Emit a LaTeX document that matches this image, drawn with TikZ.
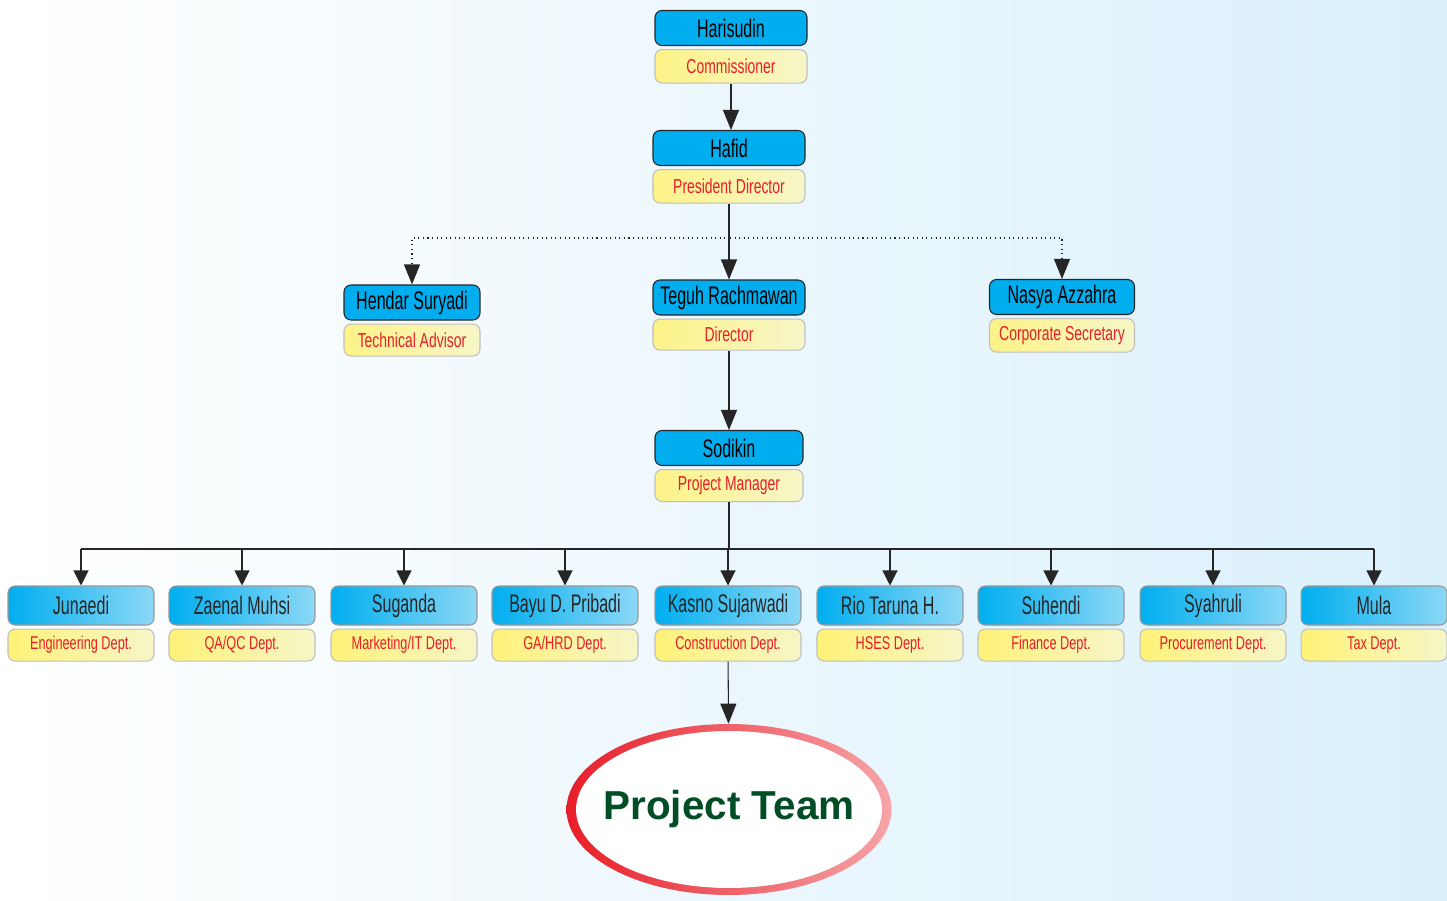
\documentclass[tikz,border=0pt]{standalone}
\usepackage{fontspec}
\setmainfont{Liberation Sans}
\newfontfamily\condfont{Liberation Sans}[FakeStretch=0.63]
\newfontfamily\rolefont{Liberation Sans}[FakeStretch=0.69]
\usepackage{xcolor}
\usepackage{tikz}
\usetikzlibrary{positioning,shapes.geometric,arrows.meta}

\definecolor{boxblue}{RGB}{0,174,239}
\definecolor{boxlight}{RGB}{140,216,246}
\definecolor{roleyellow}{RGB}{255,242,120}
\definecolor{rolepale}{RGB}{246,246,200}
\definecolor{rolered}{RGB}{232,30,40}
\definecolor{teamgreen}{RGB}{0,77,38}
\definecolor{bgblue}{RGB}{218,240,251}

\tikzset{
  namebox/.style={rectangle, rounded corners=4pt, draw=black!85, line width=0.6pt, fill=boxblue,
    minimum width=3.04cm, minimum height=0.7cm, inner sep=0pt, font=\condfont\fontsize{14.5}{14.5}\selectfont},
  rolebox/.style={rectangle, rounded corners=4pt, draw=black!25, line width=0.6pt,
    left color=roleyellow!80!rolepale, right color=rolepale, text=rolered,
    minimum width=3.04cm, minimum height=0.67cm, inner sep=0pt, font=\rolefont\fontsize{11.5}{11.5}\selectfont},
  deptname/.style={namebox, draw=black!40, left color=boxblue, right color=boxlight, text=black!85,
    minimum width=2.92cm, minimum height=0.78cm},
  deptrole/.style={rolebox, left color=roleyellow, minimum width=2.92cm, minimum height=0.64cm,
    font=\rolefont\fontsize{10.5}{10.5}\selectfont},
  link/.style={line width=0.6pt, draw=black!85, -{Triangle[length=0.4cm,width=0.32cm]}},
  buslink/.style={line width=0.6pt, draw=black!85, -{Triangle[length=0.3cm,width=0.3cm]}},
}

\begin{document}
\begin{tikzpicture}[x=0.02cm, y=-0.02cm]
		% Background
		\useasboundingbox (0,0) rectangle (1447,900);
		\shade[left color=white, middle color=white!85!bgblue, right color=bgblue] (0,0) rectangle (1447,900);
		
		% Top
		\node [namebox] (harisudin) at (731,28) {Harisudin};
		\node [rolebox, below=0.06cm of harisudin] (commissioner) {Commissioner};
		\node [namebox] (hafid) at (729,148) {Hafid};
		\node [rolebox, below=0.06cm of hafid] (president) {President Director};
		
		% Second level
		\node [namebox, minimum width=2.72cm] (hendar) at (412,302.5) {Hendar Suryadi};
		\node [rolebox, minimum width=2.72cm, minimum height=0.64cm, below=0.06cm of hendar] (advisor) {Technical Advisor};
		\node [namebox] (teguh) at (729,297.5) {Teguh Rachmawan};
		\node [rolebox, minimum height=0.62cm, below=0.06cm of teguh] (director) {Director};
		\node [namebox, minimum width=2.9cm] (nasya) at (1062,297) {Nasya Azzahra};
		\node [rolebox, minimum width=2.9cm, below=0.06cm of nasya] (secretary) {Corporate Secretary};
		
		% Project manager
		\node [namebox, minimum width=2.96cm] (sodikin) at (729,448) {Sodikin};
		\node [rolebox, minimum width=2.96cm, minimum height=0.64cm, below=0.06cm of sodikin] (manager) {Project Manager};
		
		% Departments
		\foreach \i/\x/\who/\dept in {1/81/Junaedi/Engineering Dept., 2/242/Zaenal Muhsi/QA\slash QC Dept.,
		    3/404/Suganda/Marketing\slash IT Dept., 4/565/Bayu D. Pribadi/GA\slash HRD Dept.,
		    5/728/Kasno Sujarwadi/Construction Dept., 6/890/Rio Taruna H./HSES Dept.,
		    7/1051/Suhendi/Finance Dept., 8/1213/Syahruli/Procurement Dept., 9/1374/Mula/Tax Dept.} {
		  \node [deptname] (staff\i) at (\x,605.5) {\who};
		  \node [deptrole, below=0.06cm of staff\i] (dept\i) {\dept};
		}
		
		% Project team
		\node [ellipse, left color=rolered, right color=rolered!40, minimum width=6.5cm, minimum height=3.42cm] (team) at (729,809.5) {};
		\fill [white] (team.center) ellipse [x radius=3.06cm, y radius=1.57cm];
		\node [text=teamgreen, font=\bfseries\fontsize{23}{23}\selectfont] (teamlabel) at (team) {Project Team};
		
		% Arrows
		\coordinate (split) at (730,238);
		\coordinate (bus) at (729,549);
		\draw [link] (commissioner) -- (harisudin |- hafid.north);
		\draw [link] (president) -- (teguh);
		\draw [link, dotted] (split) -| (hendar.north);
		\draw [link, dotted] (split) -| (nasya.north);
		\draw [link] (director) -- (sodikin);
		\draw [line width=0.6pt, draw=black!85] (manager) -- (bus);
		\draw [line width=0.6pt, draw=black!85] (bus -| staff1) -- (bus -| staff9);
		\foreach \i in {1,...,9}
		  \draw [buslink] (bus -| staff\i) -- (staff\i);
		\draw [link] (dept5) -- (team);
	\end{tikzpicture}
\end{document}
